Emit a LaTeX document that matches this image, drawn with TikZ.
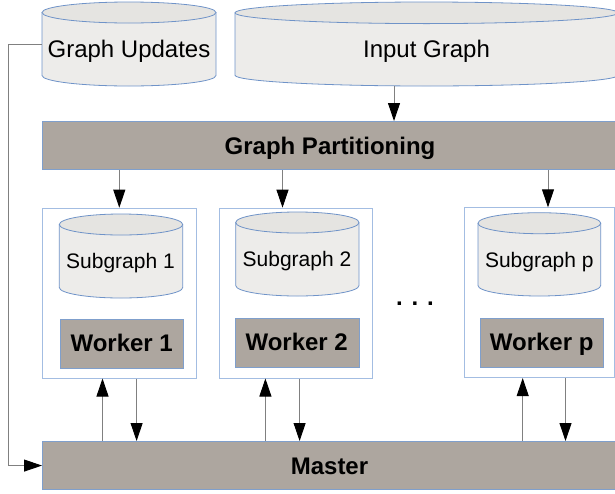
\documentclass[tikz,border=0pt]{standalone}
\usepackage{fontspec}
\setmainfont{Liberation Sans}
\usetikzlibrary{arrows.meta}
\definecolor{cylfill}{HTML}{EDECEA}
\definecolor{cyltop}{HTML}{E5E4E1}
\definecolor{cylline}{HTML}{6F93C8}
\definecolor{barfill}{HTML}{ADA69F}
\definecolor{barline}{HTML}{7F9FCC}
\definecolor{boxline}{HTML}{A3BDE2}
\definecolor{conncol}{HTML}{808080}
\newcommand\mycyl[6]{%
  \pgfmathsetmacro\cxx{(#2+#3)/2}%
  \pgfmathsetmacro\rxx{(#3-#2)/2}%
  \pgfmathsetmacro\ctop{-(#4+#6)}%
  \pgfmathsetmacro\cbot{-(#5-#6)}%
  \pgfmathsetmacro\cmid{-(#4+#5)/2}%
  \pgfmathsetmacro\cww{#3-#2}%
  \pgfmathsetmacro\chh{#5-#4}%
  \fill[cylfill] (#2,\ctop) -- (#2,\cbot) arc[start angle=180,end angle=360,x radius=\rxx,y radius=#6] -- (#3,\ctop) -- cycle;
  \filldraw[fill=cyltop,draw=cylline,line width=0.8pt] (\cxx,\ctop) ellipse[x radius=\rxx,y radius=#6];
  \draw[cylline,line width=0.8pt] (#2,\ctop) -- (#2,\cbot) arc[start angle=180,end angle=360,x radius=\rxx,y radius=#6] -- (#3,\ctop);
  \node[inner sep=0pt,minimum width=\cww pt,minimum height=\chh pt] (#1) at (\cxx,\cmid) {};
}
\tikzset{
  lbl/.style={inner sep=0pt,anchor=base,font=\fontsize{24}{28}\selectfont},
  lblb/.style={inner sep=0pt,anchor=base,font=\fontsize{24}{28}\selectfont\bfseries},
  lbls/.style={inner sep=0pt,anchor=base,font=\fontsize{21}{25}\selectfont},
  bar/.style={draw=barline,fill=barfill,line width=0.8pt,inner sep=0pt,anchor=north west},
  wbox/.style={draw=boxline,line width=0.8pt,inner sep=0pt,anchor=north west},
  conn/.style={draw=conncol,line width=0.9pt},
  arr/.style={conn,-{Triangle[length=18pt,width=12pt,color=black]}}
}
\begin{document}
\begin{tikzpicture}[x=1pt,y=1pt]
\useasboundingbox (0,0) rectangle (615,-493);
\clip (0,0) rectangle (615,-493);
% cylinders
\mycyl{gu}{42}{216}{2}{86}{10.5}
\mycyl{ig}{235}{618}{2}{86}{10.8}
\mycyl{s1}{59.3}{182.7}{214}{298}{10.5}
\mycyl{s2}{235.7}{359}{212}{296}{10.5}
\mycyl{sp}{478}{600.7}{212.7}{296}{10.5}
\node[lbl] (tgu) at (129,-57) {Graph Updates};
\node[lbl] (tig) at (426.5,-57) {Input Graph};
\node[lbls] (ts1) at (120.5,-268.3) {Subgraph 1};
\node[lbls] (ts2) at (297,-266.7) {Subgraph 2};
\node[lbls] (tsp) at (539.3,-267.3) {Subgraph p};
% bars
\node[bar,minimum width=588pt,minimum height=48.3pt] (part) at (42,-121) {};
\node[lblb] (tpart) at (330,-154.3) {Graph Partitioning};
\node[bar,minimum width=588pt,minimum height=48.3pt] (master) at (42,-441) {};
\node[lblb] (tmaster) at (329.5,-474) {Master};
% worker boxes
\node[wbox,minimum width=153.7pt,minimum height=170pt] (box1) at (42,-207.7) {};
\node[wbox,minimum width=152.7pt,minimum height=170pt] (box2) at (219.3,-207.7) {};
\node[wbox,minimum width=150pt,minimum height=170pt] (boxp) at (464.3,-207.3) {};
\node[bar,minimum width=123.3pt,minimum height=49pt] (w1) at (60,-319.3) {};
\node[bar,minimum width=124pt,minimum height=49pt] (w2) at (234.7,-317.7) {};
\node[bar,minimum width=123.3pt,minimum height=49pt] (wp) at (480,-317.7) {};
\node[lblb] (tw1) at (121.7,-351.7) {Worker 1};
\node[lblb] (tw2) at (296.7,-350.7) {Worker 2};
\node[lblb] (twp) at (541.7,-350) {Worker p};
\node[lblb] (dots) at (415,-305.7) {. . .};
% connectors
\coordinate (xig) at (394,0);
\coordinate (xa1) at (119.3,0);
\coordinate (xa2) at (282.5,0);
\coordinate (xap) at (548,0);
\coordinate (xu1) at (102.5,0);
\coordinate (xd1) at (136.6,0);
\coordinate (xu2) at (265.4,0);
\coordinate (xd2) at (299.6,0);
\coordinate (xup) at (522.7,0);
\coordinate (xdp) at (565.5,0);
\coordinate (bend) at (8.3,-44);
\draw[arr] (ig.south -| xig) -- (part.north -| xig);
\draw[arr] (part.south -| xa1) -- (box1.north -| xa1);
\draw[arr] (part.south -| xa2) -- (box2.north -| xa2);
\draw[arr] (part.south -| xap) -- (boxp.north -| xap);
\draw[arr] (master.north -| xu1) -- (box1.south -| xu1);
\draw[arr] (box1.south -| xd1) -- (master.north -| xd1);
\draw[arr] (master.north -| xu2) -- (box2.south -| xu2);
\draw[arr] (box2.south -| xd2) -- (master.north -| xd2);
\draw[arr] (master.north -| xup) -- (boxp.south -| xup);
\draw[arr] (boxp.south -| xdp) -- (master.north -| xdp);
\draw[arr] (gu.west) -- (bend) |- (master.west);
\end{tikzpicture}
\end{document}
